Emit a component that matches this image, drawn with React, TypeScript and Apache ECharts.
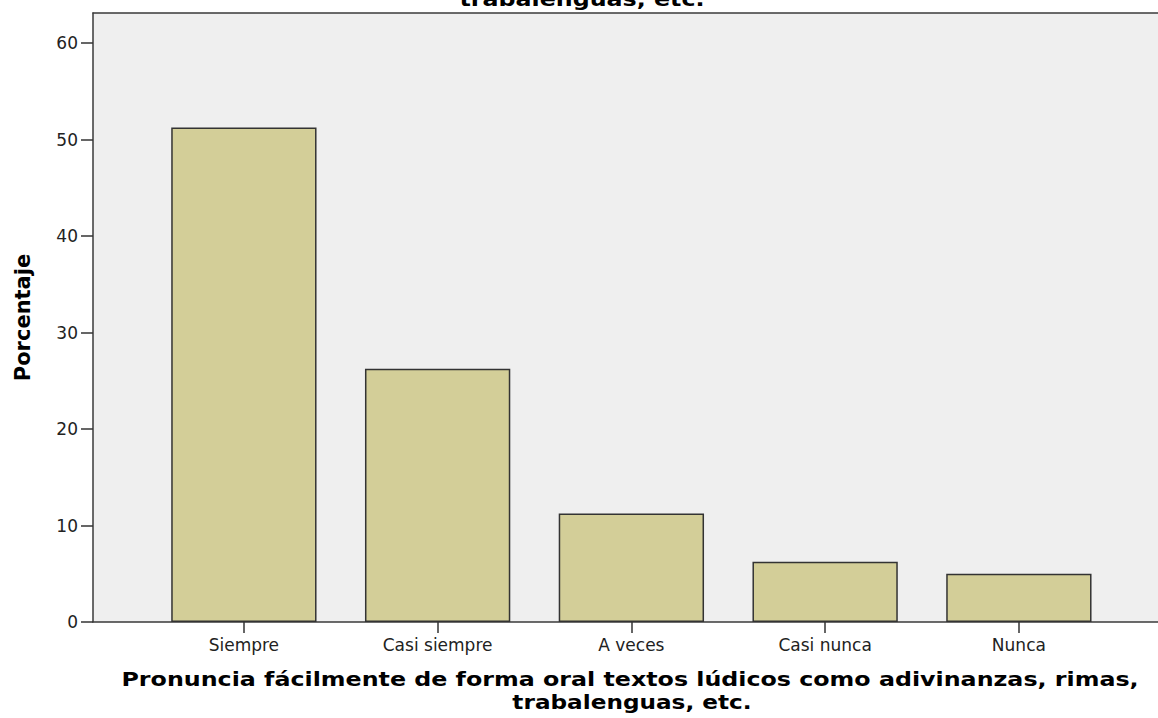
import React, { useEffect, useRef } from "react";
import * as echarts from "echarts";

const categories: string[] = ["Siempre", "Casi siempre", "A veces", "Casi nunca", "Nunca"];
const percentages: number[] = [51.25, 26.25, 11.25, 6.25, 5.0];
const yTicks = { min: 0, max: 60, interval: 10 };
const xTitleLines: string[] = [
  "Pronuncia fácilmente de forma oral textos lúdicos como adivinanzas, rimas,",
  "trabalenguas, etc.",
];
const topTitle = "trabalenguas, etc.";
const yTitle = "Porcentaje";

export default function App() {
  const ref = useRef<HTMLDivElement>(null);
  useEffect(() => {
    if (!ref.current) return;
    const chart = echarts.init(ref.current, null, { renderer: "svg" });
    const boldFont = 'bold 19px "DejaVu Sans"';
    const frameLine = { show: true, lineStyle: { color: "#3a3a3a", width: 1.5 } };
    chart.setOption({
      animation: false,
      backgroundColor: "#ffffff",
      grid: [
        { left: 147, width: 968.75, top: 43, bottom: 96, show: false, outerBoundsMode: "none", containLabel: false },
        {
          left: 93,
          right: 0,
          top: 13,
          bottom: 96,
          show: true,
          backgroundColor: "#efefef",
          borderWidth: 0,
          z: 0,
          outerBoundsMode: "none",
          containLabel: false,
        },
      ],
      xAxis: [
        {
          type: "category",
          gridIndex: 0,
          data: categories,
          axisLine: { show: false },
          axisTick: { show: true, alignWithLabel: true, length: 11, lineStyle: { color: "#333", width: 1.5 } },
          axisLabel: {
            fontFamily: "DejaVu Sans",
            fontSize: 17,
            color: "#222",
            margin: 14,
          },
          splitLine: { show: false },
        },
        {
          type: "value",
          gridIndex: 1,
          position: "bottom",
          axisLine: frameLine,
          axisTick: { show: false },
          axisLabel: { show: false },
          splitLine: { show: false },
        },
        {
          type: "value",
          gridIndex: 1,
          position: "top",
          axisLine: frameLine,
          axisTick: { show: false },
          axisLabel: { show: false },
          splitLine: { show: false },
        },
      ],
      yAxis: [
        {
          type: "value",
          gridIndex: 0,
          min: yTicks.min,
          max: yTicks.max,
          interval: yTicks.interval,
          offset: 54,
          axisLine: { show: false },
          axisTick: { show: true, length: 12, lineStyle: { color: "#333", width: 1.5 } },
          axisLabel: { fontFamily: "DejaVu Sans", fontSize: 17, color: "#222", margin: 15 },
          splitLine: { show: false },
        },
        {
          type: "value",
          gridIndex: 1,
          min: 0,
          max: 1,
          axisLine: frameLine,
          axisTick: { show: false },
          axisLabel: { show: false },
          splitLine: { show: false },
          name: yTitle,
          nameLocation: "middle",
          nameGap: 60,
          nameTextStyle: { fontFamily: "DejaVu Sans", fontWeight: "bold", fontSize: 21, color: "#000" },
        },
      ],
      series: [
        {
          type: "bar",
          xAxisIndex: 0,
          yAxisIndex: 0,
          data: percentages,
          barCategoryGap: "25%",
          itemStyle: { color: "#d3ce98", borderColor: "#333", borderWidth: 1.5 },
          z: 3,
        },
      ],
      graphic: [
        {
          type: "text",
          x: 582,
          y: 9,
          scaleX: 1.25,
          style: { text: topTitle, font: boldFont, fill: "#000", align: "center", verticalAlign: "bottom" },
        },
        {
          type: "text",
          x: 630,
          y: 689,
          scaleX: 1.25,
          style: { text: xTitleLines[0], font: boldFont, fill: "#000", align: "center", verticalAlign: "bottom" },
        },
        {
          type: "text",
          x: 632,
          y: 712,
          scaleX: 1.22,
          style: { text: xTitleLines[1], font: boldFont, fill: "#000", align: "center", verticalAlign: "bottom" },
        },
      ],
    });
    return () => chart.dispose();
  }, []);
  return <div ref={ref} style={{ width: 1158, height: 718, position: "absolute", left: 0, top: 0 }} />;
}
